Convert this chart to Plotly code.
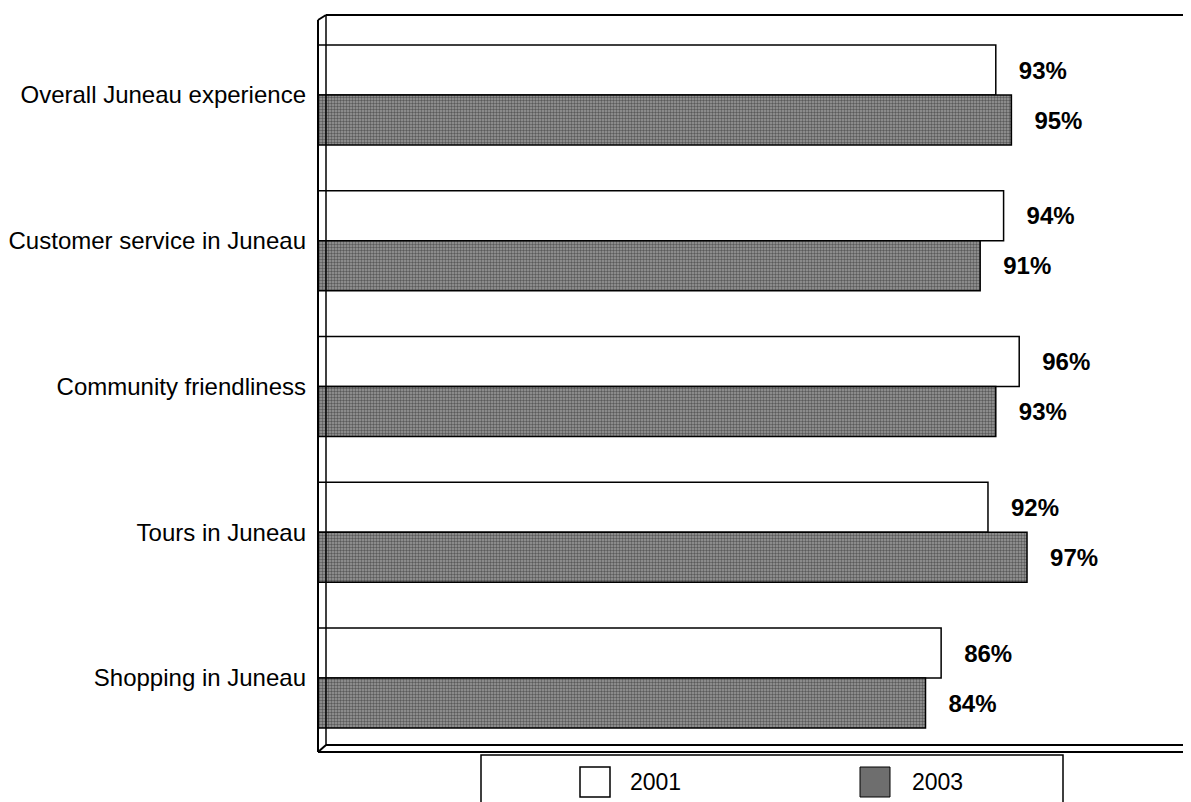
import plotly.graph_objects as go

categories = ["Overall Juneau experience", "Customer service in Juneau",
              "Community friendliness", "Tours in Juneau", "Shopping in Juneau"]
series_names = ["2001", "2003"]
values_2001 = [93, 94, 96, 92, 86]
values_2003 = [95, 91, 93, 97, 84]

FONT = "Liberation Sans, Arial, sans-serif"
OFF = 8  # page body margin
W, H = 1191 - OFF, 802 - OFF
L, R, T, B = 318 - OFF, 0, 15 - OFF, 54
pw, ph = W - L - R, H - T - B

def px_x(x):
    return (x - OFF - L) / pw

def px_y(y):
    return (H - B - (y - OFF)) / ph

fig = go.Figure()
fig.add_trace(go.Bar(
    y=categories, x=values_2001, name=series_names[0], orientation="h",
    marker=dict(color="white", line=dict(color="black", width=1.5)),
    texttemplate="\u00a0\u00a0\u00a0<b>%{x}%</b>", textposition="outside",
    textfont=dict(family=FONT, size=24, color="black"),
    showlegend=False, cliponaxis=False,
))
fig.add_trace(go.Bar(
    y=categories, x=values_2003, name=series_names[1], orientation="h",
    marker=dict(color="#6e6e6e", line=dict(color="black", width=1.5),
                pattern=dict(shape=".", fgcolor="#1a1a1a", bgcolor="#9a9a9a",
                             size=3, solidity=0.5)),
    texttemplate="\u00a0\u00a0\u00a0<b>%{x}%</b>", textposition="outside",
    textfont=dict(family=FONT, size=24, color="black"),
    showlegend=False, cliponaxis=False,
))

fig.update_layout(
    width=W, height=H,
    margin=dict(l=L, r=R, t=T, b=B, pad=0),
    paper_bgcolor="white", plot_bgcolor="white",
    barmode="group", bargap=0.314, bargroupgap=0,
    font=dict(family=FONT, size=24, color="black"),
)

fig.update_xaxes(range=[6.2, 118], visible=False, showgrid=False, zeroline=False)
fig.update_yaxes(range=[4.48, -0.549], showgrid=False, zeroline=False,
                 showline=False, ticks="", ticklabelstandoff=11,
                 tickfont=dict(family=FONT, size=24, color="black"))

shapes = []
line = dict(color="black", width=2)
# plot frame (3D wall approximation)
shapes.append(dict(type="line", xref="paper", yref="paper", x0=px_x(326), x1=1, y0=px_y(15), y1=px_y(15), line=line))
shapes.append(dict(type="line", xref="paper", yref="paper", x0=0, x1=0, y0=px_y(752), y1=px_y(20), line=line))
shapes.append(dict(type="line", xref="paper", yref="paper", x0=px_x(326), x1=px_x(326), y0=px_y(745), y1=px_y(15), line=dict(color="black", width=1.5)))
shapes.append(dict(type="line", xref="paper", yref="paper", x0=0, x1=px_x(326), y0=px_y(20), y1=px_y(15), line=line))
shapes.append(dict(type="line", xref="paper", yref="paper", x0=px_x(326), x1=1, y0=px_y(745), y1=px_y(745), line=line))
shapes.append(dict(type="line", xref="paper", yref="paper", x0=0, x1=1, y0=px_y(752), y1=px_y(752), line=line))
shapes.append(dict(type="line", xref="paper", yref="paper", x0=0, x1=px_x(326), y0=px_y(752), y1=px_y(745), line=line))
# legend box
shapes.append(dict(type="rect", xref="paper", yref="paper", x0=px_x(481), x1=px_x(1063),
                   y0=px_y(812), y1=px_y(755), line=dict(color="black", width=1.5), fillcolor="white"))
# legend swatches
shapes.append(dict(type="rect", xref="paper", yref="paper", x0=px_x(580), x1=px_x(610),
                   y0=px_y(797), y1=px_y(767), line=dict(color="black", width=1.5), fillcolor="white"))
shapes.append(dict(type="rect", xref="paper", yref="paper", x0=px_x(860), x1=px_x(890),
                   y0=px_y(797), y1=px_y(767), line=dict(color="black", width=1), fillcolor="#6e6e6e"))

annotations = [
    dict(text=series_names[0], xref="paper", yref="paper", x=px_x(628), y=px_y(782),
         xanchor="left", yanchor="middle", showarrow=False,
         font=dict(family=FONT, size=23, color="black")),
    dict(text=series_names[1], xref="paper", yref="paper", x=px_x(910), y=px_y(782),
         xanchor="left", yanchor="middle", showarrow=False,
         font=dict(family=FONT, size=23, color="black")),
]
fig.update_layout(shapes=shapes, annotations=annotations)

fig.write_html("out.html")
